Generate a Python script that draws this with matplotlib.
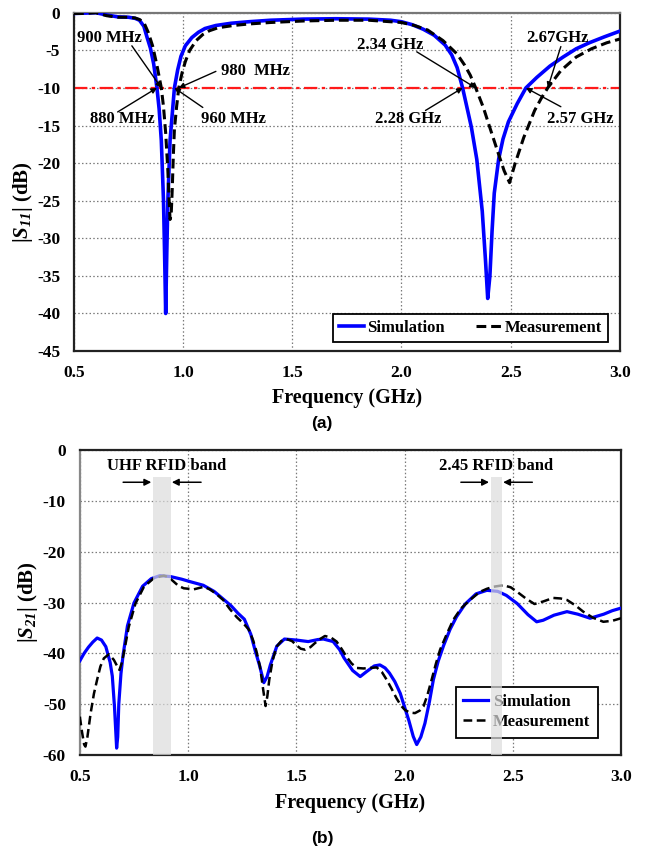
import numpy as np
import matplotlib
matplotlib.use("Agg")
import matplotlib.pyplot as plt

plt.rcParams['font.family'] = ['Liberation Serif', 'DejaVu Serif']
plt.rcParams['font.weight'] = 'bold'
plt.rcParams['axes.unicode_minus'] = False
# math text is only used for the S-parameter symbols, all bold italic
plt.rcParams['mathtext.fontset'] = 'custom'
plt.rcParams['mathtext.rm'] = 'Liberation Serif:italic:bold'
plt.rcParams['mathtext.it'] = 'Liberation Serif:italic:bold'
plt.rcParams['mathtext.bf'] = 'Liberation Serif:italic:bold'

# |S11| -- simulation
f_s11_sim = [0.50, 0.55, 0.60, 0.65, 0.70, 0.75, 0.78, 0.80, 0.82, 0.835, 0.85, 0.865,
             0.88, 0.89, 0.90, 0.91, 0.915, 0.92, 0.925, 0.93, 0.94, 0.95, 0.96, 0.975,
             0.99, 1.01, 1.04, 1.07, 1.10, 1.15, 1.22, 1.30, 1.40, 1.55, 1.70, 1.85,
             1.95, 2.00, 2.05, 2.10, 2.15, 2.20, 2.23, 2.255, 2.28, 2.30, 2.32, 2.345,
             2.37, 2.385, 2.395, 2.405, 2.415, 2.425, 2.445, 2.465, 2.49, 2.53, 2.57, 2.62,
             2.68, 2.74, 2.80, 2.86, 2.93, 3.00]
s11_sim = [-0.1, -0.05, 0.0, -0.3, -0.55, -0.6, -0.75, -1.0, -1.8, -3.3, -4.7, -6.8,
           -10.0, -12.8, -17.0, -25.0, -32.0, -40.0, -32.0, -25.0, -17.0, -13.5, -10.0, -7.6,
           -5.8, -4.4, -3.3, -2.6, -2.1, -1.7, -1.4, -1.2, -1.0, -0.85, -0.8, -0.85,
           -1.0, -1.2, -1.6, -2.2, -3.0, -4.3, -5.6, -7.3, -10.0, -12.6, -15.2, -19.5,
           -26.4, -33.0, -38.0, -35.0, -29.0, -24.0, -19.5, -16.8, -14.5, -12.1, -10.0, -8.6,
           -7.1, -5.9, -4.8, -4.0, -3.2, -2.45]

# |S11| -- measurement
f_s11_meas = [0.50, 0.55, 0.60, 0.65, 0.70, 0.75, 0.78, 0.80, 0.82, 0.84, 0.86, 0.88,
              0.90, 0.91, 0.92, 0.93, 0.935, 0.94, 0.945, 0.95, 0.955, 0.96, 0.97, 0.98,
              0.995, 1.01, 1.03, 1.06, 1.09, 1.12, 1.16, 1.23, 1.30, 1.40, 1.55, 1.70,
              1.85, 2.00, 2.06, 2.12, 2.19, 2.255, 2.29, 2.315, 2.34, 2.375, 2.405, 2.44,
              2.47, 2.495, 2.52, 2.56, 2.61, 2.64, 2.67, 2.73, 2.80, 2.87, 2.94, 3.00]
s11_meas = [-0.1, -0.1, 0.0, -0.4, -0.6, -0.6, -0.7, -0.9, -1.3, -2.6, -4.4, -7.0,
            -10.0, -12.5, -16.0, -21.0, -24.5, -27.5, -27.0, -23.5, -19.0, -15.5, -12.5, -10.0,
            -8.0, -6.5, -5.0, -3.7, -2.9, -2.4, -2.0, -1.7, -1.5, -1.3, -1.1, -1.0,
            -1.0, -1.3, -1.7, -2.3, -3.7, -5.5, -7.0, -8.3, -10.0, -12.6, -15.3, -18.4,
            -21.0, -22.6, -20.1, -16.6, -13.0, -11.4, -10.0, -7.7, -5.9, -4.8, -4.0, -3.5]

# |S21| -- simulation
f_s21_sim = [0.50, 0.52, 0.54, 0.56, 0.58, 0.60, 0.62, 0.64, 0.65, 0.66, 0.67, 0.675,
             0.68, 0.69, 0.70, 0.72, 0.75, 0.79, 0.83, 0.87, 0.92, 0.97, 1.01, 1.07,
             1.12, 1.17, 1.20, 1.23, 1.26, 1.29, 1.31, 1.33, 1.35, 1.365, 1.38, 1.41,
             1.445, 1.50, 1.555, 1.60, 1.625, 1.67, 1.70, 1.72, 1.76, 1.795, 1.825, 1.86,
             1.886, 1.91, 1.93, 1.955, 1.98, 2.02, 2.04, 2.056, 2.075, 2.094, 2.115, 2.133,
             2.155, 2.18, 2.21, 2.24, 2.28, 2.33, 2.38, 2.43, 2.47, 2.52, 2.57, 2.61,
             2.64, 2.69, 2.75, 2.80, 2.857, 2.92, 2.96, 3.00]
s21_sim = [-41.5, -40.0, -38.8, -37.8, -37.0, -37.4, -38.7, -41.8, -44.5, -50.5, -58.7, -56.5,
           -50.0, -44.0, -40.3, -34.6, -30.1, -26.8, -25.3, -24.7, -24.9, -25.4, -25.9, -26.6,
           -27.8, -29.6, -30.7, -32.1, -33.3, -36.3, -39.5, -42.4, -45.8, -44.6, -42.3, -38.6,
           -37.2, -37.4, -37.7, -37.3, -37.2, -37.7, -39.3, -40.9, -43.4, -44.6, -43.6, -42.5,
           -42.3, -42.9, -43.9, -45.6, -47.9, -53.3, -56.4, -58.0, -56.5, -53.8, -49.5, -45.2,
           -41.6, -38.5, -35.3, -32.8, -30.3, -28.3, -27.6, -27.8, -28.6, -30.2, -32.4, -33.8,
           -33.5, -32.5, -31.8, -32.3, -33.1, -32.3, -31.6, -31.1]

# |S21| -- measurement
f_s21_meas = [0.50, 0.51, 0.52, 0.526, 0.535, 0.55, 0.565, 0.58, 0.595, 0.611, 0.634, 0.657,
              0.672, 0.683, 0.693, 0.703, 0.715, 0.726, 0.757, 0.796, 0.842, 0.888, 0.91, 0.934,
              0.955, 0.98, 1.027, 1.073, 1.10, 1.13, 1.162, 1.193, 1.225, 1.255, 1.28, 1.30,
              1.315, 1.332, 1.347, 1.358, 1.366, 1.375, 1.39, 1.409, 1.43, 1.455, 1.48, 1.50,
              1.52, 1.54, 1.565, 1.586, 1.61, 1.632, 1.66, 1.686, 1.71, 1.732, 1.755, 1.779,
              1.81, 1.84, 1.871, 1.895, 1.917, 1.94, 1.963, 1.983, 2.002, 2.025, 2.048, 2.07,
              2.087, 2.105, 2.125, 2.145, 2.164, 2.195, 2.225, 2.26, 2.302, 2.348, 2.38, 2.41,
              2.455, 2.49, 2.52, 2.56, 2.60, 2.64, 2.686, 2.72, 2.75, 2.79, 2.825, 2.87,
              2.918, 2.96, 3.00]
s21_meas = [-52.5, -55.5, -58.0, -58.4, -56.5, -51.8, -48.0, -45.2, -42.6, -41.0, -40.2, -41.3,
            -42.5, -43.3, -42.0, -40.0, -37.3, -34.8, -30.2, -26.9, -25.2, -24.7, -25.0, -25.9,
            -26.7, -27.2, -27.4, -26.9, -27.4, -28.3, -29.5, -31.3, -32.9, -34.1, -35.3, -37.4,
            -39.5, -42.6, -47.2, -50.4, -48.5, -45.2, -41.5, -38.7, -37.6, -37.2, -37.6, -38.4,
            -39.1, -39.3, -38.8, -38.0, -37.2, -36.6, -36.9, -37.7, -39.2, -40.7, -42.0, -42.9,
            -43.0, -42.9, -42.8, -43.7, -45.2, -47.0, -48.9, -50.3, -51.2, -51.7, -51.8, -51.3,
            -50.5, -48.3, -45.2, -42.0, -39.3, -36.2, -33.4, -31.2, -29.5, -27.9, -27.3, -26.9,
            -26.6, -27.0, -27.9, -29.2, -30.3, -29.8, -29.1, -29.2, -29.5, -30.6, -31.8, -33.0,
            -33.8, -33.6, -33.1]

# -10 dB crossing labels: (text, crossing freq, text x, text y, arrow tail x, arrow tail y)
s11_marks = [
    ('900 MHz', 0.90, 0.66, -3.4, 0.765, -4.4),
    ('880 MHz', 0.88, 0.72, -14.2, 0.70, -13.2),
    ('980  MHz', 0.98, 1.33, -7.8, 1.15, -7.8),
    ('960 MHz', 0.96, 1.23, -14.2, 1.09, -12.6),
    ('2.34 GHz', 2.34, 1.95, -4.3, 2.07, -5.2),
    ('2.28 GHz', 2.28, 2.03, -14.2, 2.11, -13.0),
    ('2.67GHz', 2.67, 2.715, -3.4, 2.73, -4.5),
    ('2.57 GHz', 2.57, 2.82, -14.1, 2.73, -12.5),
]

# RFID bands for the |S21| panel: (label, low edge, high edge, label x)
bands = [('UHF RFID band', 0.84, 0.92, 0.90), ('2.45 RFID band', 2.40, 2.45, 2.422)]
xticks = [0.5, 1.0, 1.5, 2.0, 2.5, 3.0]


def style_axes(ax):
    ax.set_xlim(0.5, 3.0)
    ax.set_xticks(xticks)
    ax.set_xticklabels(['%.1f' % t for t in xticks])
    ax.grid(True, linestyle=(0, (1.2, 1.8)), color='#7a7a7a', linewidth=0.9)
    ax.tick_params(length=0, labelsize=12.5, pad=10)
    for lab in ax.get_xticklabels() + ax.get_yticklabels():
        lab.set_fontweight('bold')
    for side in ['left', 'bottom', 'right', 'top']:
        ax.spines[side].set_linewidth(1.6)
        ax.spines[side].set_color('#222222')


def bold_legend(ax, **kw):
    leg = ax.legend(loc='lower right', fontsize=12, fancybox=False, framealpha=1,
                    edgecolor='black', borderaxespad=0, **kw)
    leg.get_frame().set_linewidth(1.3)
    for t in leg.get_texts():
        t.set_fontweight('bold')
    return leg


fig = plt.figure(figsize=(6.49, 8.48), dpi=100)

# (a) reflection coefficient
ax1 = fig.add_axes([0.114, 0.586, 0.841, 0.399])
ax1.axhline(-10, color='#ff1a1a', linewidth=1.6, linestyle=(0, (6, 2, 1.5, 2)), zorder=1.8)
ax1.plot(f_s11_sim, s11_sim, color='#0000ff', linewidth=2.6, label='Simulation', zorder=3)
ax1.plot(f_s11_meas, s11_meas, color='black', linewidth=2.2, linestyle=(0, (3.2, 1.6)),
         label='Measurement', zorder=4)
ax1.set_ylim(-45, 0)
ax1.set_yticks(np.arange(-45, 1, 5))
style_axes(ax1)
ax1.spines['top'].set_color('#777777')
ax1.set_xlabel('Frequency (GHz)', fontsize=14.5, fontweight='bold')
ax1.set_ylabel(r'|$S_{11}$| (dB)', fontsize=15, fontweight='bold')
ax1.xaxis.set_label_coords(0.5, -0.109)
ax1.yaxis.set_label_coords(-0.071, 0.44)

for text, fc, tx, ty, ax_x, ax_y in s11_marks:
    ax1.text(tx, ty, text, fontsize=12, fontweight='bold', ha='center', va='center', zorder=6)
    ax1.annotate('', xy=(fc, -10), xytext=(ax_x, ax_y),
                 arrowprops=dict(arrowstyle='-|>', color='black', lw=1.0,
                                 mutation_scale=8, shrinkA=0, shrinkB=0), zorder=6)

bold_legend(ax1, bbox_to_anchor=(0.978, 0.027), ncol=2, handlelength=1.5,
            handletextpad=0.2, columnspacing=1.9, borderpad=0.35)

# (b) transmission coefficient
ax2 = fig.add_axes([0.123, 0.110, 0.834, 0.359])
ax2.plot(f_s21_sim, s21_sim, color='#0000ff', linewidth=2.3, label='Simulation', zorder=3)
ax2.plot(f_s21_meas, s21_meas, color='black', linewidth=1.8, linestyle=(0, (3.5, 1.8)),
         label='Measurement', zorder=4)
ax2.set_ylim(-60, 0)
ax2.set_yticks(np.arange(-60, 1, 10))
style_axes(ax2)
ax2.spines['left'].set_color('#888888')
ax2.set_xlabel('Frequency (GHz)', fontsize=14.5, fontweight='bold')
ax2.set_ylabel(r'|$S_{21}$| (dB)', fontsize=15, fontweight='bold')
ax2.xaxis.set_label_coords(0.5, -0.125)
ax2.yaxis.set_label_coords(-0.074, 0.5)

bold_legend(ax2, bbox_to_anchor=(0.957, 0.056), ncol=1, handlelength=1.5,
            handletextpad=0.3, borderpad=0.45, labelspacing=0.25)

for name, lo, hi, tx in bands:
    ax2.axvspan(lo, hi, ymin=0, ymax=(60 - 5.3) / 60, color='#dcdcdc', alpha=0.7,
                linewidth=0, zorder=6)
    ax2.text(tx, -3.1, name, fontsize=12, fontweight='bold', ha='center', va='center')
    ax2.annotate('', xy=(lo - 0.01, -6.3), xytext=(lo - 0.14, -6.3),
                 arrowprops=dict(arrowstyle='-|>', color='black', lw=1.1,
                                 mutation_scale=10, shrinkA=0, shrinkB=0))
    ax2.annotate('', xy=(hi + 0.005, -6.3), xytext=(hi + 0.14, -6.3),
                 arrowprops=dict(arrowstyle='-|>', color='black', lw=1.1,
                                 mutation_scale=10, shrinkA=0, shrinkB=0))

fig.text(322 / 649, 1 - 423 / 848, '(a)', family=['Liberation Sans', 'DejaVu Sans'],
         fontsize=12.5, fontweight='bold', ha='center', va='center')
fig.text(322 / 649, 1 - 838 / 848, '(b)', family=['Liberation Sans', 'DejaVu Sans'],
         fontsize=12.5, fontweight='bold', ha='center', va='center')

fig.savefig('out.png', dpi=100)
